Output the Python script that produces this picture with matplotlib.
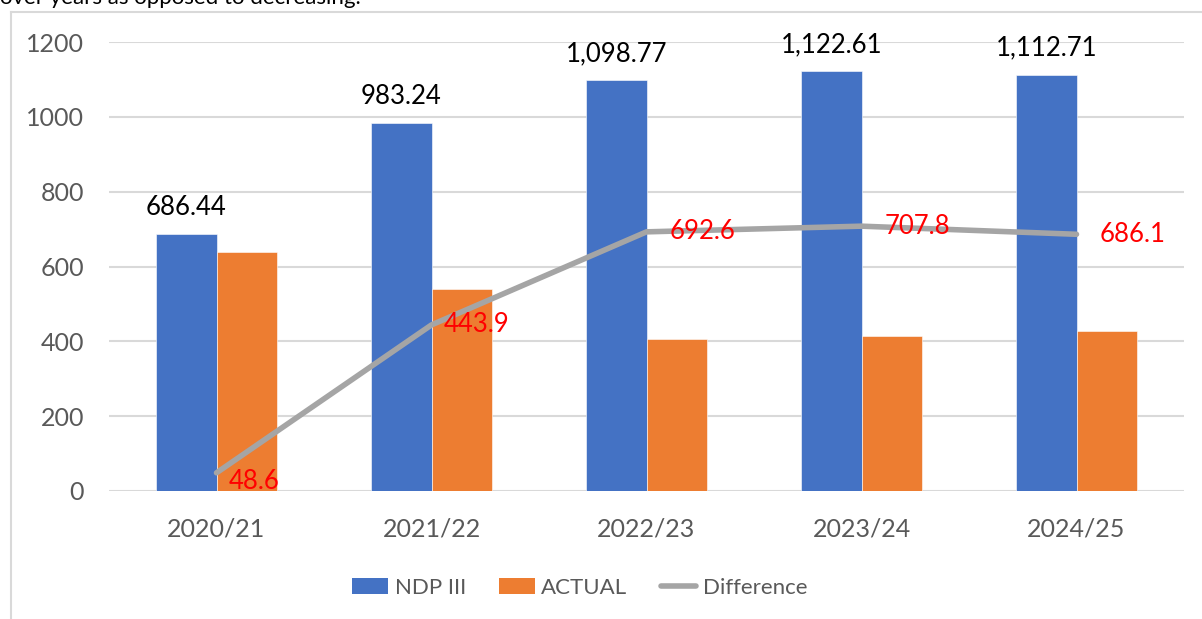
import matplotlib
matplotlib.use("Agg")
import matplotlib.pyplot as plt
from matplotlib.lines import Line2D
from matplotlib.patches import Patch
import numpy as np

categories = ["2020/21", "2021/22", "2022/23", "2023/24", "2024/25"]
ndp = [686.44, 983.24, 1098.77, 1122.61, 1112.71]
actual = [637.84, 539.34, 406.17, 414.81, 426.61]
difference = [48.6, 443.9, 692.6, 707.8, 686.1]
ndp_labels = ["686.44", "983.24", "1,098.77", "1,122.61", "1,112.71"]
diff_labels = ["48.6", "443.9", "692.6", "707.8", "686.1"]
yticks = [0, 200, 400, 600, 800, 1000, 1200]

BLUE = "#4472C4"
ORANGE = "#ED7D31"
GRAY = "#A5A5A5"
FONT = ["Lato", "DejaVu Sans"]
plt.rcParams["font.family"] = FONT

W, H = 1202, 619
fig = plt.figure(figsize=(W / 100, H / 100), dpi=100)
ax = fig.add_axes([109 / W, 1 - 491 / H, (1184 - 109) / W, (491 - 42) / H])

x = np.arange(len(categories))
bw = 0.282
ax.bar(x - bw / 2, ndp, bw, color=BLUE, edgecolor="white", linewidth=0.4, zorder=2)
ax.bar(x + bw / 2, actual, bw, color=ORANGE, edgecolor="white", linewidth=0.4, zorder=2)
ax.plot(x, difference, color=GRAY, linewidth=4, solid_capstyle="round", zorder=3)

for xi, v, lab in zip(x, ndp, ndp_labels):
    ax.annotate(lab, (xi - bw / 2, v), xytext=(0, 10), textcoords="offset points",
                ha="center", va="bottom", fontsize=18.5, color="black")

diff_offsets = [(9, -6.5), (9, 0), (17, 0), (16.5, 0), (16.5, 0)]
for xi, v, lab, off in zip(x, difference, diff_labels, diff_offsets):
    ax.annotate(lab, (xi, v), xytext=off, textcoords="offset points",
                ha="left", va="center", fontsize=18.5, color="red", zorder=4)

ax.set_xlim(-0.5, len(categories) - 0.5)
ax.set_ylim(0, 1200)
ax.set_yticks(yticks)
ax.set_xticks(x)
ax.set_xticklabels(categories)
ax.tick_params(axis="y", length=0, pad=18, labelsize=18, labelcolor="#595959")
ax.tick_params(axis="x", length=0, pad=19, labelsize=18, labelcolor="#595959")
for s in ax.spines.values():
    s.set_visible(False)
ax.grid(axis="y", color="#D9D9D9", linewidth=1.5, zorder=0)
ax.set_axisbelow(True)

handles = [Patch(facecolor=BLUE), Patch(facecolor=ORANGE),
           Line2D([0], [0], color=GRAY, linewidth=4, solid_capstyle="round")]
fig.legend(handles, ["NDP III", "ACTUAL", "Difference"], loc="center",
           bbox_to_anchor=(580 / W, 1 - 588 / H), ncol=3, frameon=False,
           fontsize=16, labelcolor="#595959", handlelength=1.6, handleheight=0.73,
           handletextpad=0.3, columnspacing=1.5)

# chart frame (left and top border)
fig.add_artist(Line2D([11 / W, 11 / W], [0, 1 - 12 / H], color="#D9D9D9", linewidth=1.5))
fig.add_artist(Line2D([11 / W, 1], [1 - 12 / H, 1 - 12 / H], color="#D9D9D9", linewidth=1.5))

# partially visible text above the chart
fig.text(0, 1 - 4 / H, "over years as opposed to decreasing.", fontsize=16,
         color="black", ha="left", va="baseline")

fig.savefig("out.png", dpi=100)
